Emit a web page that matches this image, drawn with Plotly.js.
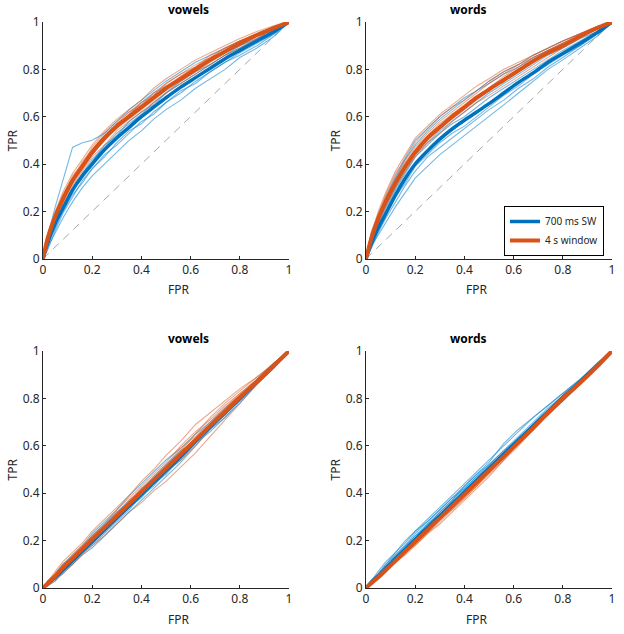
<!DOCTYPE html>
<html>
<head>
<meta charset="utf-8">
<script src="https://cdn.plot.ly/plotly-3.0.1.min.js"></script>
<style>
  html, body { margin: 0; padding: 0; background: #fff; }
  #graph { width: 624px; height: 634px; }
</style>
</head>
<body>
<div id="graph"></div>
<script>
// FPR sample points shared by every curve
const fpr = [0, 0.02, 0.05, 0.08, 0.12, 0.16, 0.2, 0.25, 0.3, 0.35, 0.4, 0.45, 0.5, 0.56, 0.62, 0.68, 0.74, 0.8, 0.87, 0.94, 1];

const panelTitles = ["vowels", "words", "vowels", "words"];
const legendNames = ["700 ms SW", "4 s window"];
const tickVals = [0, 0.2, 0.4, 0.6, 0.8, 1];
const tickText = ["0", "0.2", "0.4", "0.6", "0.8", "1"];

// ---- top row, vowels ----
const r1Vowels_sw_mean  = [0, 0.07, 0.15, 0.21, 0.29, 0.35, 0.40, 0.46, 0.51, 0.555, 0.60, 0.64, 0.68, 0.725, 0.765, 0.805, 0.845, 0.88, 0.92, 0.96, 1];
const r1Vowels_win_mean = [0, 0.09, 0.18, 0.25, 0.33, 0.39, 0.45, 0.51, 0.56, 0.60, 0.64, 0.68, 0.72, 0.76, 0.80, 0.84, 0.875, 0.91, 0.945, 0.975, 1];
const r1Vowels_sw_runs = [
  [0, 0.10, 0.22, 0.33, 0.47, 0.49, 0.50, 0.53, 0.58, 0.63, 0.67, 0.71, 0.75, 0.79, 0.83, 0.86, 0.89, 0.92, 0.95, 0.98, 1],
  [0, 0.05, 0.11, 0.17, 0.24, 0.30, 0.35, 0.40, 0.45, 0.50, 0.54, 0.59, 0.63, 0.67, 0.72, 0.76, 0.80, 0.85, 0.89, 0.94, 1],
  [0, 0.09, 0.17, 0.24, 0.32, 0.39, 0.44, 0.50, 0.56, 0.61, 0.66, 0.70, 0.73, 0.76, 0.80, 0.84, 0.87, 0.90, 0.94, 0.97, 1],
  [0, 0.06, 0.13, 0.20, 0.27, 0.32, 0.38, 0.44, 0.48, 0.53, 0.58, 0.61, 0.66, 0.70, 0.75, 0.79, 0.83, 0.87, 0.91, 0.95, 1],
  [0, 0.08, 0.16, 0.22, 0.30, 0.36, 0.42, 0.47, 0.53, 0.57, 0.61, 0.66, 0.70, 0.74, 0.78, 0.82, 0.86, 0.89, 0.93, 0.96, 1],
  [0, 0.04, 0.12, 0.19, 0.26, 0.33, 0.38, 0.43, 0.49, 0.54, 0.57, 0.62, 0.66, 0.71, 0.74, 0.79, 0.83, 0.86, 0.90, 0.95, 1],
  [0, 0.07, 0.14, 0.22, 0.28, 0.36, 0.41, 0.48, 0.52, 0.58, 0.62, 0.65, 0.70, 0.75, 0.79, 0.82, 0.86, 0.90, 0.93, 0.97, 1]
];
const r1Vowels_win_runs = [
  [0, 0.10, 0.20, 0.28, 0.36, 0.42, 0.48, 0.54, 0.59, 0.63, 0.67, 0.72, 0.76, 0.80, 0.84, 0.87, 0.90, 0.93, 0.96, 0.985, 1],
  [0, 0.08, 0.16, 0.23, 0.31, 0.37, 0.43, 0.48, 0.54, 0.58, 0.62, 0.66, 0.70, 0.74, 0.78, 0.82, 0.86, 0.89, 0.93, 0.97, 1],
  [0, 0.11, 0.19, 0.27, 0.34, 0.41, 0.46, 0.52, 0.57, 0.62, 0.66, 0.69, 0.74, 0.78, 0.82, 0.85, 0.89, 0.92, 0.95, 0.98, 1],
  [0, 0.07, 0.17, 0.24, 0.32, 0.38, 0.44, 0.50, 0.55, 0.59, 0.63, 0.67, 0.71, 0.75, 0.79, 0.83, 0.87, 0.90, 0.94, 0.97, 1],
  [0, 0.09, 0.19, 0.26, 0.35, 0.40, 0.47, 0.53, 0.58, 0.62, 0.65, 0.70, 0.74, 0.78, 0.81, 0.85, 0.88, 0.92, 0.95, 0.98, 1],
  [0, 0.08, 0.18, 0.25, 0.32, 0.40, 0.45, 0.50, 0.56, 0.61, 0.65, 0.69, 0.73, 0.77, 0.81, 0.86, 0.89, 0.92, 0.95, 0.98, 1],
  [0, 0.10, 0.18, 0.26, 0.33, 0.39, 0.46, 0.52, 0.57, 0.60, 0.64, 0.68, 0.72, 0.77, 0.81, 0.84, 0.88, 0.91, 0.945, 0.975, 1]
];

// ---- top row, words ----
const r1Words_sw_mean  = [0, 0.06, 0.13, 0.19, 0.27, 0.34, 0.40, 0.455, 0.505, 0.548, 0.585, 0.62, 0.655, 0.70, 0.745, 0.785, 0.83, 0.867, 0.91, 0.955, 1];
const r1Words_win_mean = [0, 0.08, 0.17, 0.24, 0.32, 0.39, 0.45, 0.51, 0.555, 0.60, 0.64, 0.68, 0.715, 0.755, 0.795, 0.835, 0.87, 0.90, 0.94, 0.975, 1];
const r1Words_sw_runs = [
  [0, 0.05, 0.10, 0.15, 0.22, 0.28, 0.34, 0.39, 0.44, 0.48, 0.52, 0.56, 0.60, 0.65, 0.70, 0.75, 0.80, 0.84, 0.89, 0.94, 1],
  [0, 0.09, 0.17, 0.25, 0.34, 0.42, 0.48, 0.54, 0.59, 0.63, 0.67, 0.71, 0.74, 0.78, 0.81, 0.85, 0.88, 0.91, 0.94, 0.97, 1],
  [0, 0.06, 0.12, 0.18, 0.26, 0.32, 0.39, 0.44, 0.49, 0.53, 0.56, 0.60, 0.64, 0.69, 0.73, 0.78, 0.82, 0.86, 0.90, 0.95, 1],
  [0, 0.08, 0.15, 0.22, 0.30, 0.37, 0.44, 0.49, 0.54, 0.58, 0.62, 0.66, 0.70, 0.74, 0.78, 0.82, 0.86, 0.89, 0.93, 0.96, 1],
  [0, 0.04, 0.11, 0.17, 0.24, 0.31, 0.37, 0.43, 0.47, 0.51, 0.55, 0.59, 0.63, 0.67, 0.72, 0.76, 0.81, 0.85, 0.90, 0.95, 1],
  [0, 0.07, 0.14, 0.21, 0.29, 0.36, 0.43, 0.48, 0.53, 0.57, 0.60, 0.64, 0.68, 0.72, 0.76, 0.80, 0.84, 0.88, 0.92, 0.96, 1],
  [0, 0.10, 0.18, 0.26, 0.35, 0.43, 0.50, 0.55, 0.60, 0.64, 0.68, 0.71, 0.75, 0.79, 0.82, 0.86, 0.89, 0.92, 0.95, 0.98, 1]
];
const r1Words_win_runs = [
  [0, 0.10, 0.20, 0.28, 0.37, 0.44, 0.51, 0.56, 0.61, 0.65, 0.69, 0.73, 0.76, 0.80, 0.83, 0.86, 0.89, 0.92, 0.95, 0.98, 1],
  [0, 0.07, 0.15, 0.22, 0.30, 0.37, 0.43, 0.49, 0.53, 0.58, 0.62, 0.66, 0.69, 0.73, 0.77, 0.81, 0.85, 0.89, 0.93, 0.97, 1],
  [0, 0.09, 0.18, 0.26, 0.34, 0.41, 0.47, 0.53, 0.58, 0.62, 0.66, 0.70, 0.74, 0.78, 0.82, 0.85, 0.88, 0.91, 0.95, 0.98, 1],
  [0, 0.08, 0.16, 0.23, 0.31, 0.38, 0.44, 0.50, 0.55, 0.59, 0.63, 0.67, 0.71, 0.75, 0.79, 0.83, 0.87, 0.90, 0.94, 0.97, 1],
  [0, 0.11, 0.19, 0.27, 0.36, 0.42, 0.49, 0.55, 0.60, 0.64, 0.67, 0.71, 0.75, 0.79, 0.82, 0.86, 0.89, 0.92, 0.95, 0.98, 1],
  [0, 0.07, 0.17, 0.25, 0.32, 0.40, 0.46, 0.51, 0.56, 0.61, 0.65, 0.69, 0.72, 0.76, 0.80, 0.84, 0.88, 0.91, 0.94, 0.975, 1],
  [0, 0.09, 0.16, 0.23, 0.33, 0.39, 0.45, 0.52, 0.57, 0.61, 0.64, 0.68, 0.72, 0.77, 0.81, 0.85, 0.88, 0.90, 0.94, 0.97, 1]
];

// ---- bottom row, vowels ----
const r2Vowels_sw_mean  = [0, 0.02, 0.045, 0.075, 0.115, 0.155, 0.195, 0.245, 0.295, 0.345, 0.395, 0.445, 0.495, 0.555, 0.62, 0.68, 0.74, 0.80, 0.87, 0.94, 1];
const r2Vowels_win_mean = [0, 0.02, 0.05, 0.085, 0.125, 0.165, 0.205, 0.255, 0.305, 0.355, 0.405, 0.455, 0.505, 0.565, 0.625, 0.685, 0.745, 0.805, 0.87, 0.94, 1];
const r2Vowels_sw_runs = [
  [0, 0.01, 0.04, 0.06, 0.10, 0.14, 0.17, 0.22, 0.27, 0.32, 0.37, 0.42, 0.47, 0.53, 0.60, 0.67, 0.72, 0.79, 0.86, 0.93, 1],
  [0, 0.03, 0.06, 0.10, 0.14, 0.18, 0.23, 0.28, 0.33, 0.39, 0.44, 0.49, 0.54, 0.59, 0.65, 0.70, 0.76, 0.81, 0.88, 0.95, 1],
  [0, 0.02, 0.05, 0.07, 0.11, 0.16, 0.19, 0.24, 0.30, 0.34, 0.38, 0.44, 0.48, 0.55, 0.61, 0.68, 0.73, 0.80, 0.87, 0.94, 1],
  [0, 0.02, 0.04, 0.09, 0.13, 0.17, 0.21, 0.26, 0.31, 0.36, 0.42, 0.46, 0.51, 0.57, 0.63, 0.69, 0.75, 0.81, 0.87, 0.95, 1],
  [0, 0.01, 0.03, 0.07, 0.10, 0.15, 0.18, 0.23, 0.28, 0.33, 0.39, 0.43, 0.49, 0.54, 0.61, 0.66, 0.72, 0.78, 0.86, 0.93, 1],
  [0, 0.03, 0.05, 0.08, 0.12, 0.17, 0.22, 0.27, 0.32, 0.37, 0.41, 0.47, 0.52, 0.58, 0.62, 0.68, 0.74, 0.80, 0.88, 0.94, 1],
  [0, 0.02, 0.04, 0.08, 0.11, 0.15, 0.20, 0.25, 0.29, 0.35, 0.40, 0.45, 0.50, 0.56, 0.62, 0.67, 0.74, 0.79, 0.87, 0.94, 1]
];
const r2Vowels_win_runs = [
  [0, 0.03, 0.07, 0.11, 0.15, 0.19, 0.24, 0.29, 0.34, 0.39, 0.45, 0.50, 0.56, 0.62, 0.69, 0.74, 0.79, 0.84, 0.89, 0.95, 1],
  [0, 0.01, 0.03, 0.06, 0.10, 0.14, 0.18, 0.22, 0.27, 0.32, 0.36, 0.41, 0.45, 0.51, 0.57, 0.64, 0.71, 0.78, 0.86, 0.93, 1],
  [0, 0.02, 0.06, 0.09, 0.14, 0.18, 0.22, 0.27, 0.33, 0.38, 0.43, 0.48, 0.53, 0.60, 0.66, 0.71, 0.77, 0.82, 0.88, 0.95, 1],
  [0, 0.02, 0.04, 0.08, 0.12, 0.16, 0.20, 0.25, 0.30, 0.34, 0.39, 0.44, 0.49, 0.54, 0.60, 0.67, 0.73, 0.80, 0.87, 0.94, 1],
  [0, 0.03, 0.06, 0.10, 0.13, 0.17, 0.22, 0.26, 0.31, 0.37, 0.42, 0.47, 0.52, 0.59, 0.64, 0.70, 0.76, 0.82, 0.88, 0.95, 1],
  [0, 0.01, 0.04, 0.07, 0.11, 0.15, 0.19, 0.24, 0.29, 0.35, 0.40, 0.44, 0.50, 0.55, 0.61, 0.68, 0.74, 0.81, 0.87, 0.94, 1],
  [0, 0.02, 0.05, 0.09, 0.13, 0.17, 0.21, 0.26, 0.32, 0.36, 0.41, 0.46, 0.51, 0.58, 0.65, 0.72, 0.78, 0.83, 0.89, 0.95, 1]
];

// ---- bottom row, words ----
const r2Words_sw_mean  = [0, 0.022, 0.05, 0.082, 0.125, 0.165, 0.205, 0.255, 0.305, 0.355, 0.405, 0.455, 0.505, 0.565, 0.625, 0.685, 0.745, 0.805, 0.87, 0.94, 1];
const r2Words_win_mean = [0, 0.02, 0.045, 0.075, 0.115, 0.155, 0.195, 0.245, 0.295, 0.345, 0.395, 0.445, 0.495, 0.555, 0.615, 0.675, 0.74, 0.80, 0.865, 0.935, 1];
const r2Words_sw_runs = [
  [0, 0.03, 0.06, 0.10, 0.15, 0.19, 0.24, 0.29, 0.34, 0.39, 0.44, 0.49, 0.54, 0.60, 0.66, 0.72, 0.77, 0.82, 0.88, 0.95, 1],
  [0, 0.02, 0.05, 0.09, 0.13, 0.17, 0.22, 0.27, 0.32, 0.37, 0.42, 0.47, 0.52, 0.58, 0.64, 0.70, 0.76, 0.81, 0.87, 0.94, 1],
  [0, 0.03, 0.07, 0.11, 0.15, 0.20, 0.24, 0.28, 0.33, 0.38, 0.42, 0.47, 0.51, 0.57, 0.62, 0.68, 0.74, 0.80, 0.87, 0.94, 1],
  [0, 0.02, 0.05, 0.08, 0.12, 0.16, 0.20, 0.25, 0.30, 0.35, 0.40, 0.45, 0.50, 0.56, 0.62, 0.68, 0.74, 0.79, 0.86, 0.93, 1],
  [0, 0.03, 0.06, 0.10, 0.14, 0.18, 0.23, 0.28, 0.33, 0.38, 0.43, 0.48, 0.53, 0.61, 0.67, 0.72, 0.77, 0.82, 0.88, 0.94, 1],
  [0, 0.02, 0.05, 0.08, 0.13, 0.17, 0.21, 0.27, 0.31, 0.36, 0.41, 0.46, 0.51, 0.57, 0.63, 0.69, 0.75, 0.80, 0.86, 0.93, 1],
  [0, 0.03, 0.06, 0.09, 0.14, 0.18, 0.22, 0.26, 0.32, 0.37, 0.43, 0.48, 0.52, 0.58, 0.63, 0.68, 0.73, 0.79, 0.86, 0.94, 1]
];
const r2Words_win_runs = [
  [0, 0.02, 0.04, 0.07, 0.11, 0.15, 0.18, 0.23, 0.28, 0.33, 0.38, 0.43, 0.48, 0.54, 0.61, 0.67, 0.73, 0.79, 0.86, 0.93, 1],
  [0, 0.02, 0.05, 0.08, 0.12, 0.16, 0.20, 0.25, 0.30, 0.35, 0.40, 0.45, 0.50, 0.56, 0.62, 0.68, 0.74, 0.80, 0.87, 0.94, 1],
  [0, 0.01, 0.04, 0.07, 0.11, 0.14, 0.18, 0.23, 0.27, 0.32, 0.37, 0.42, 0.47, 0.54, 0.60, 0.67, 0.73, 0.79, 0.86, 0.93, 1],
  [0, 0.02, 0.05, 0.08, 0.12, 0.16, 0.19, 0.24, 0.29, 0.34, 0.39, 0.44, 0.49, 0.55, 0.62, 0.68, 0.74, 0.80, 0.87, 0.94, 1],
  [0, 0.02, 0.04, 0.08, 0.11, 0.15, 0.19, 0.24, 0.29, 0.33, 0.38, 0.43, 0.49, 0.55, 0.61, 0.68, 0.74, 0.79, 0.86, 0.93, 1],
  [0, 0.02, 0.05, 0.08, 0.12, 0.15, 0.19, 0.25, 0.30, 0.35, 0.39, 0.44, 0.50, 0.56, 0.62, 0.67, 0.73, 0.80, 0.87, 0.94, 1],
  [0, 0.01, 0.04, 0.07, 0.12, 0.16, 0.20, 0.24, 0.29, 0.34, 0.40, 0.45, 0.49, 0.55, 0.61, 0.67, 0.74, 0.81, 0.87, 0.94, 1]
];

const panels = [
  { sw: r1Vowels_sw_runs, win: r1Vowels_win_runs, swMean: r1Vowels_sw_mean, winMean: r1Vowels_win_mean },
  { sw: r1Words_sw_runs,  win: r1Words_win_runs,  swMean: r1Words_sw_mean,  winMean: r1Words_win_mean },
  { sw: r2Vowels_sw_runs, win: r2Vowels_win_runs, swMean: r2Vowels_sw_mean, winMean: r2Vowels_win_mean },
  { sw: r2Words_sw_runs,  win: r2Words_win_runs,  swMean: r2Words_sw_mean,  winMean: r2Words_win_mean }
];

const BLUE = "#0072BD";
const ORANGE = "#D95319";
const INK = "#262626";

var traces = [];
panels.forEach(function (p, i) {
  var xa = i === 0 ? "x" : "x" + (i + 1);
  var ya = i === 0 ? "y" : "y" + (i + 1);
  // chance line
  traces.push({ x: [0, 1], y: [0, 1], xaxis: xa, yaxis: ya, mode: "lines",
    line: { color: "#a6a6a6", width: 1, dash: "8px,6px" }, showlegend: false, hoverinfo: "skip" });
  p.sw.forEach(function (r) {
    traces.push({ x: fpr, y: r, xaxis: xa, yaxis: ya, mode: "lines",
      line: { color: "rgba(30,140,210,0.62)", width: 1.1 }, showlegend: false });
  });
  p.win.forEach(function (r) {
    traces.push({ x: fpr, y: r, xaxis: xa, yaxis: ya, mode: "lines",
      line: { color: "rgba(217,83,25,0.5)", width: 1.1 }, showlegend: false });
  });
  traces.push({ x: fpr, y: p.swMean, xaxis: xa, yaxis: ya, mode: "lines", name: legendNames[0],
    line: { color: BLUE, width: 3.5, shape: "spline", smoothing: 0.8 }, showlegend: i === 1 });
  traces.push({ x: fpr, y: p.winMean, xaxis: xa, yaxis: ya, mode: "lines", name: legendNames[1],
    line: { color: ORANGE, width: 4, shape: "spline", smoothing: 0.8 }, showlegend: i === 1 });
});

function axis(domain, anchor) {
  return {
    domain: domain, anchor: anchor, range: [0, 1],
    tickvals: tickVals, ticktext: tickText,
    ticks: "inside", ticklen: 3, tickcolor: INK, tickwidth: 1,
    showline: true, linecolor: INK, linewidth: 1, mirror: false,
    showgrid: false, zeroline: false,
    tickfont: { size: 12, color: INK }
  };
}

const W = 624, H = 634;
const colX = [[43 / W, 289 / W], [366 / W, 612 / W]];
const rowPx = [[22, 258.7], [351, 588]];
const rowY = rowPx.map(function (r) { return [1 - r[1] / H, 1 - r[0] / H]; });

var layout = {
  width: W, height: H,
  margin: { l: 0, r: 0, t: 0, b: 0 },
  paper_bgcolor: "#fff", plot_bgcolor: "#fff",
  font: { family: "Noto Sans, Open Sans, sans-serif", color: INK },
  showlegend: true,
  legend: {
    x: 604 / W, xanchor: "right", y: 1 - 256 / H, yanchor: "bottom",
    bgcolor: "#fff", bordercolor: "#000", borderwidth: 1,
    font: { size: 10, color: INK }, tracegroupgap: 0
  },
  annotations: []
};

for (var i = 0; i < 4; i++) {
  var c = i % 2, r = Math.floor(i / 2);
  var xk = i === 0 ? "xaxis" : "xaxis" + (i + 1);
  var yk = i === 0 ? "yaxis" : "yaxis" + (i + 1);
  layout[xk] = axis(colX[c], i === 0 ? "y" : "y" + (i + 1));
  layout[yk] = axis(rowY[r], i === 0 ? "x" : "x" + (i + 1));
  var cx = (colX[c][0] + colX[c][1]) / 2;
  layout.annotations.push({
    text: "<b>" + panelTitles[i] + "</b>", xref: "paper", yref: "paper",
    x: cx, y: 1 - (rowPx[r][0] - 13) / H, yanchor: "middle",
    showarrow: false, font: { size: 12, color: "#000" }
  });
  layout.annotations.push({
    text: "FPR", xref: "paper", yref: "paper",
    x: cx, y: 1 - (rowPx[r][1] + 31) / H, yanchor: "middle",
    showarrow: false, font: { size: 12, color: INK }
  });
  layout.annotations.push({
    text: "TPR", xref: "paper", yref: "paper", textangle: -90,
    x: colX[c][0] - 31 / W, y: (rowY[r][0] + rowY[r][1]) / 2, xanchor: "center", yanchor: "middle",
    showarrow: false, font: { size: 12, color: INK }
  });
}

Plotly.newPlot("graph", traces, layout, { displayModeBar: false, staticPlot: true });
</script>
</body>
</html>
